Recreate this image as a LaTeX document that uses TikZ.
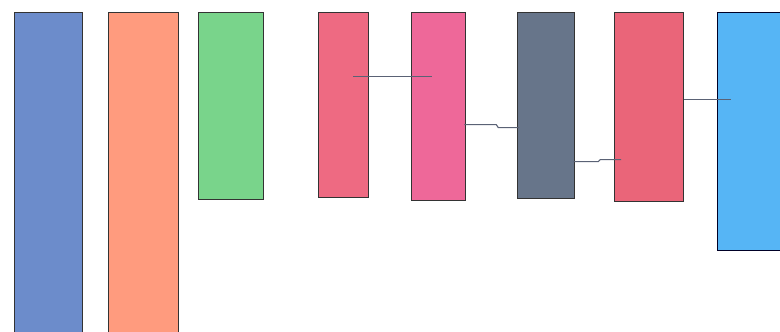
\documentclass[tikz,border=0pt]{standalone}
\usepackage{tikz}
\usetikzlibrary{calc,positioning}
\definecolor{barblue}{HTML}{6C8CCB}
\definecolor{barsalmon}{HTML}{FF9B7E}
\definecolor{bargreen}{HTML}{79D48B}
\definecolor{barrose}{HTML}{EE6A82}
\definecolor{barpink}{HTML}{EE6899}
\definecolor{barslate}{HTML}{67758A}
\definecolor{barred}{HTML}{EA6579}
\definecolor{barsky}{HTML}{56B5F5}
\definecolor{linkgray}{HTML}{5A6275}

\begin{document}
\begin{tikzpicture}[x=1pt,y=-1pt,
bar/.style={draw=black!80, line width=1.3pt, anchor=north west, inner sep=0pt},
link/.style={draw=linkgray, line width=1.1pt},]
\useasboundingbox (0,0) rectangle (780,332);
\clip (0,0) rectangle (780,332);
\node[bar, fill=barblue,   minimum width=68pt, minimum height=340pt] (blue)   at (14,12)  {};
\node[bar, fill=barsalmon, minimum width=70pt, minimum height=340pt] (salmon) at (108,12) {};
\node[bar, fill=bargreen,  minimum width=65pt, minimum height=187pt] (green)  at (198,12) {};
\node[bar, fill=barrose,   minimum width=50pt, minimum height=185pt] (rose)   at (318,12) {};
\node[bar, fill=barpink,   minimum width=54pt, minimum height=188pt] (pink)   at (411,12) {};
\node[bar, fill=barslate,  minimum width=57pt, minimum height=186pt] (slate)  at (517,12) {};
\node[bar, fill=barred,    minimum width=69pt, minimum height=189pt] (red)    at (614,12) {};
\node[bar, fill=barsky, draw=black!85!blue, minimum width=80pt, minimum height=238pt] (sky) at (717,12) {};
% links
\draw[link] ([shift={(-16,-28.5)}]rose.east) -- ([shift={(21,-30)}]pink.west);
\draw[link] ([shift={(-2,18)}]pink.east) -- ++(32,0) -- ++(2,3) -- ([shift={(2,22)}]slate.west);
\draw[link] ([shift={(-2,56)}]slate.east) -- ++(25,0) -- ++(2,-2) -- ([shift={(7,52.5)}]red.west);
\draw[link] ([shift={(0,-7.5)}]red.east) -- ([shift={(14,-32)}]sky.west);
\end{tikzpicture}
\end{document}
